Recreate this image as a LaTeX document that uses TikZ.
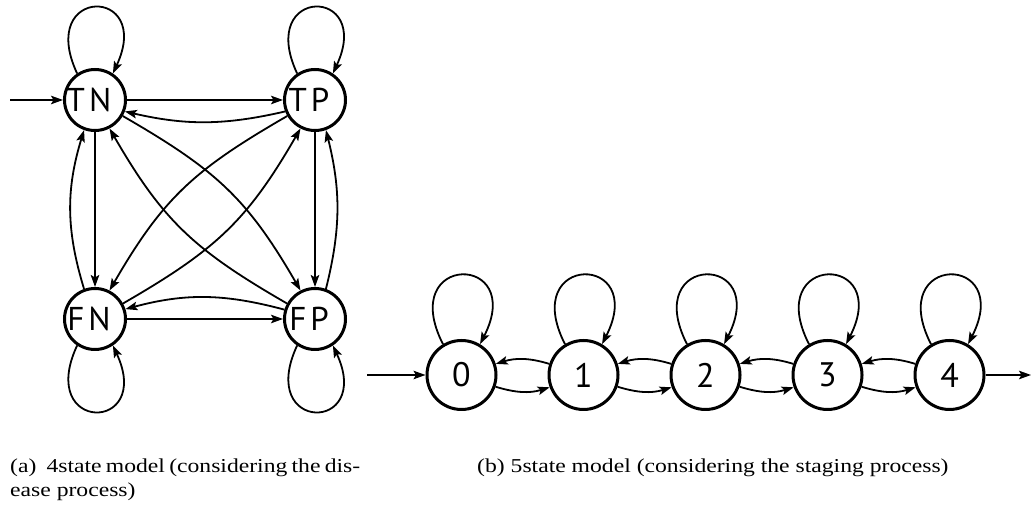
\documentclass[tikz,border=0pt]{standalone}
\usepackage{fontspec}
\setmainfont{Liberation Serif}
\newfontfamily\statefont{PT Sans}
\newfontfamily\capfont[FakeStretch=1.2]{Liberation Serif}
\usetikzlibrary{arrows.meta}

\begin{document}
\begin{tikzpicture}[x=1pt,y=1pt,
  st4/.style={circle,draw,line width=3pt,minimum size=61pt,inner sep=0pt},
  st5/.style={circle,draw,line width=3pt,minimum size=69pt,inner sep=0pt,
              font=\statefont\fontsize{34}{40}\selectfont},
  lab4/.style={font=\statefont\fontsize{33}{40}\selectfont,xshift=-6pt},
  tr/.style={line width=1.8pt,-{Stealth[length=12pt,width=8.5pt,inset=2.5pt]}},
  captext/.style={font=\capfont\fontsize{19.7}{24}\selectfont,anchor=base west,inner sep=0pt}]
\useasboundingbox (0,0) rectangle (1032,505);

% ---- four-state model ----
\node[st4,label={[lab4]center:T\hspace{4pt}N}] (TN) at (95,405) {};
\node[st4,label={[lab4]center:T\hspace{4pt}P}] (TP) at (315,405) {};
\node[st4,label={[lab4]center:F\hspace{4pt}N}] (FN) at (95,186) {};
\node[st4,label={[lab4]center:F\hspace{4pt}P}] (FP) at (315,186) {};
\coordinate (start4) at (10,405);

\draw[tr] (start4) -- (TN.west);

% self loops
\draw[tr] (TN.124) to[out=115,in=65,distance=97pt] (TN.56);
\draw[tr] (TP.124) to[out=115,in=65,distance=97pt] (TP.56);
\draw[tr] (FN.236) to[out=245,in=295,distance=97pt] (FN.304);
\draw[tr] (FP.236) to[out=245,in=295,distance=97pt] (FP.304);

% horizontal pairs
\draw[tr] (TN.east) -- (TP.west);
\draw[tr] (TP.201) to[out=193,in=-13] (TN.339);
\draw[tr] (FN.east) -- (FP.west);
\draw[tr] (FP.163) to[out=165,in=15] (FN.18);

% vertical pairs
\draw[tr] (TN.south) -- (FN.north);
\draw[tr] (FN.110) to[out=107,in=253] (TN.250);
\draw[tr] (TP.south) -- (FP.north);
\draw[tr] (FP.70) to[out=76,in=284] (TP.290);

% diagonal pairs
\draw[tr] (TN.330) to[out=-30,in=120,looseness=1.1] (FP.117);
\draw[tr] (FP.151) to[out=150,in=-60,looseness=1.1] (TN.297);
\draw[tr] (TP.210) to[out=210,in=60,looseness=1.1] (FN.63);
\draw[tr] (FN.29) to[out=30,in=240,looseness=1.1] (TP.243);

% ---- five-state model ----
\foreach \i in {0,...,4}
  \node[st5] (s\i) at (461.5+122*\i,130) {\i};
\coordinate (start5) at (367,130);
\coordinate (end5) at (1031,130);

\draw[tr] (start5) -- (s0.west);
\draw[tr] (s4.east) -- (end5);

\foreach \i in {0,...,4}
  \draw[tr] (s\i.121) to[out=117,in=63,distance=103pt] (s\i.59);

\foreach \i/\j in {0/1,1/2,2/3,3/4} {
  \draw[tr] (s\i.-19) to[out=-17,in=197] (s\j.200);
  \draw[tr] (s\j.162) to[out=163,in=17] (s\i.18);
}

% ---- captions ----
\node[captext] (capa1) at (10,32) {\makebox[350pt][s]{(a)\hspace{0.3em} 4state model (considering the dis-}};
\node[captext] (capa2) at (10,8) {ease process)};
\node[captext] (capb) at (477,32) {(b) 5state model (considering the staging process)};
\end{tikzpicture}
\end{document}
